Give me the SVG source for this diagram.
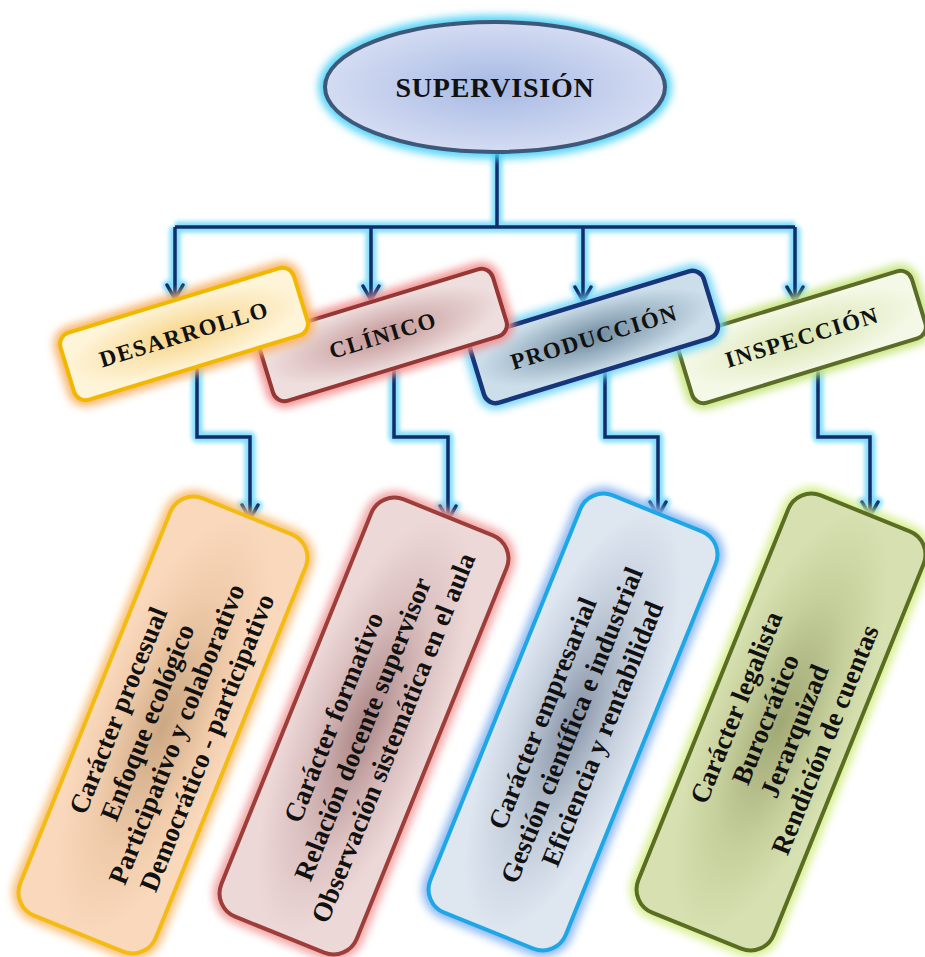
<svg xmlns="http://www.w3.org/2000/svg" width="925" height="957" viewBox="0 0 925 957">
<defs>
<style>
.t{font-family:"Liberation Serif","Times New Roman",serif;font-weight:bold;fill:#111;}
.ht{font-size:23px;letter-spacing:1.5px;text-anchor:middle;}
.bt{font-size:27px;text-anchor:middle;}
.glow{fill:none;stroke-width:13;filter:url(#blur);}
.cg{fill:none;stroke:#80DEF9;stroke-width:11;stroke-linejoin:round;}
.cl{fill:none;stroke:#112D6C;stroke-width:3.5;stroke-linejoin:miter;}
</style>
<filter id="blur" x="-30%" y="-30%" width="160%" height="160%"><feGaussianBlur stdDeviation="4"/></filter>
<filter id="cblur" x="-20%" y="-20%" width="140%" height="140%"><feGaussianBlur stdDeviation="2.2"/></filter>
<marker id="arr" viewBox="0 0 20 20" refX="17" refY="10" markerWidth="20" markerHeight="20" orient="auto" markerUnits="userSpaceOnUse">
<path d="M3,2 L17,10 L3,18" fill="none" stroke="#112D6C" stroke-width="3.5" stroke-linecap="round" stroke-linejoin="miter"/>
</marker>
<marker id="arrg" viewBox="-4 -4 28 28" refX="17" refY="10" markerWidth="28" markerHeight="28" orient="auto" markerUnits="userSpaceOnUse">
<path d="M3,2 L17,10 L3,18" fill="none" stroke="#80DEF9" stroke-width="9" stroke-linecap="round" stroke-linejoin="round"/>
</marker>
<radialGradient id="gEll"><stop offset="0" stop-color="#A6B9E4"/><stop offset="1" stop-color="#D4DCF2"/></radialGradient>
<radialGradient id="gHD"><stop offset="0" stop-color="#F7D386"/><stop offset="1" stop-color="#FEF4D8"/></radialGradient>
<radialGradient id="gHC"><stop offset="0" stop-color="#C29696"/><stop offset="1" stop-color="#EFDEDE"/></radialGradient>
<radialGradient id="gHP"><stop offset="0" stop-color="#6E8A9E"/><stop offset="1" stop-color="#CCDEEA"/></radialGradient>
<radialGradient id="gHI"><stop offset="0" stop-color="#D9E5B0"/><stop offset="1" stop-color="#F4F8E6"/></radialGradient>
<radialGradient id="gBD"><stop offset="0" stop-color="#CCA783"/><stop offset="0.6" stop-color="#F0CBAA"/><stop offset="1" stop-color="#F9D8BC"/></radialGradient>
<radialGradient id="gBC"><stop offset="0" stop-color="#AC8686"/><stop offset="0.6" stop-color="#DCC1C1"/><stop offset="1" stop-color="#EDD8D8"/></radialGradient>
<radialGradient id="gBP"><stop offset="0" stop-color="#8793A6"/><stop offset="0.6" stop-color="#C6D0DD"/><stop offset="1" stop-color="#DEE6F0"/></radialGradient>
<radialGradient id="gBI"><stop offset="0" stop-color="#A0A874"/><stop offset="0.6" stop-color="#C6D09C"/><stop offset="1" stop-color="#D7E0B0"/></radialGradient>
</defs>
<rect width="925" height="957" fill="#FFFFFF"/>

<g id="connectors">
<g filter="url(#cblur)">
<path class="cg" d="M497,150 V227"/>
<path class="cg" d="M175,227 H795"/>
<path class="cg" d="M175,227 V299" marker-end="url(#arrg)"/>
<path class="cg" d="M371,227 V300" marker-end="url(#arrg)"/>
<path class="cg" d="M583,227 V301" marker-end="url(#arrg)"/>
<path class="cg" d="M795,227 V301" marker-end="url(#arrg)"/>
<path class="cg" d="M197,350 V437 H250 V519" marker-end="url(#arrg)"/>
<path class="cg" d="M394,350 V437 H448 V520" marker-end="url(#arrg)"/>
<path class="cg" d="M605,355 V437 H658 V516" marker-end="url(#arrg)"/>
<path class="cg" d="M818,355 V437 H870 V516" marker-end="url(#arrg)"/>
</g>
<path class="cl" d="M497,150 V227"/>
<path class="cl" d="M175,227 H795"/>
<path class="cl" d="M175,227 V299" marker-end="url(#arr)"/>
<path class="cl" d="M371,227 V300" marker-end="url(#arr)"/>
<path class="cl" d="M583,227 V301" marker-end="url(#arr)"/>
<path class="cl" d="M795,227 V301" marker-end="url(#arr)"/>
<path class="cl" d="M197,350 V437 H250 V519" marker-end="url(#arr)"/>
<path class="cl" d="M394,350 V437 H448 V520" marker-end="url(#arr)"/>
<path class="cl" d="M605,355 V437 H658 V516" marker-end="url(#arr)"/>
<path class="cl" d="M818,355 V437 H870 V516" marker-end="url(#arr)"/>
</g>

<g id="supervision">
<ellipse cx="495" cy="87" rx="170" ry="65" class="glow" stroke="#4CD2F8" stroke-width="22"/>
<ellipse cx="495" cy="87" rx="170" ry="65" fill="url(#gEll)" stroke="#3E587A" stroke-width="4"/>
<text class="t" x="495" y="97" font-size="28" letter-spacing="0.8" text-anchor="middle">SUPERVISIÓN</text>
</g>

<g id="inspeccion" transform="translate(802,337) rotate(-17)">
<rect x="-122" y="-35" width="244" height="70" rx="12" class="glow" stroke="#C6E57C"/>
<rect x="-122" y="-35" width="244" height="70" rx="12" fill="url(#gHI)" stroke="#5C6B27" stroke-width="4"/>
<text class="t ht" x="0" y="8">INSPECCIÓN</text>
</g>
<g id="produccion" transform="translate(594,337) rotate(-17)">
<rect x="-122" y="-35" width="244" height="70" rx="12" class="glow" stroke="#72D6F6"/>
<rect x="-122" y="-35" width="244" height="70" rx="12" fill="url(#gHP)" stroke="#17357A" stroke-width="4.5"/>
<text class="t ht" x="0" y="8">PRODUCCIÓN</text>
</g>
<g id="clinico" transform="translate(383,335) rotate(-17)">
<rect x="-122" y="-35" width="244" height="70" rx="12" class="glow" stroke="#F39090"/>
<rect x="-122" y="-35" width="244" height="70" rx="12" fill="url(#gHC)" stroke="#953735" stroke-width="4"/>
<text class="t ht" x="0" y="8" letter-spacing="2.5">CLÍNICO</text>
</g>
<g id="desarrollo" transform="translate(184,334) rotate(-17)">
<rect x="-122" y="-35" width="244" height="70" rx="12" class="glow" stroke="#F8B46A"/>
<rect x="-122" y="-35" width="244" height="70" rx="12" fill="url(#gHD)" stroke="#F2B800" stroke-width="4"/>
<text class="t ht" x="0" y="8">DESARROLLO</text>
</g>

<g id="box-desarrollo" transform="translate(163,725) rotate(22)">
<rect x="-73" y="-225" width="146" height="450" rx="25" class="glow" stroke="#F8C07A"/>
<rect x="-73" y="-225" width="146" height="450" rx="25" fill="url(#gBD)" stroke="#F4BB12" stroke-width="4"/>
<text class="t bt" transform="rotate(-90)">
<tspan x="0" y="-38">Carácter procesual</tspan>
<tspan x="0" y="-6.5">Enfoque ecológico</tspan>
<tspan x="0" y="25">Participativo y colaborativo</tspan>
<tspan x="0" y="56.5">Democrático - participativo</tspan>
</text>
</g>
<g id="box-clinico" transform="translate(364,726) rotate(22)">
<rect x="-73" y="-225" width="146" height="450" rx="25" class="glow" stroke="#F2A0A0"/>
<rect x="-73" y="-225" width="146" height="450" rx="25" fill="url(#gBC)" stroke="#9E3E3B" stroke-width="4"/>
<text class="t bt" transform="rotate(-90)">
<tspan x="0" y="-22.5">Carácter formativo</tspan>
<tspan x="0" y="9">Relación docente supervisor</tspan>
<tspan x="0" y="40.5">Observación sistemática en el aula</tspan>
</text>
</g>
<g id="box-produccion" transform="translate(573,722) rotate(22)">
<rect x="-73" y="-225" width="146" height="450" rx="25" class="glow" stroke="#8CB8F2"/>
<rect x="-73" y="-225" width="146" height="450" rx="25" fill="url(#gBP)" stroke="#1EA7E6" stroke-width="4"/>
<text class="t bt" transform="rotate(-90)">
<tspan x="0" y="-22.5">Carácter empresarial</tspan>
<tspan x="0" y="9">Gestión científica  e industrial</tspan>
<tspan x="0" y="40.5">Eficiencia y rentabilidad</tspan>
</text>
</g>
<g id="box-inspeccion" transform="translate(781,722) rotate(22)">
<rect x="-73" y="-225" width="146" height="450" rx="25" class="glow" stroke="#D6EE8C"/>
<rect x="-73" y="-225" width="146" height="450" rx="25" fill="url(#gBI)" stroke="#5A6E22" stroke-width="4"/>
<text class="t bt" transform="rotate(-90)">
<tspan x="0" y="-38">Carácter legalista</tspan>
<tspan x="0" y="-6.5">Burocrático</tspan>
<tspan x="0" y="25">Jerarquizad</tspan>
<tspan x="0" y="56.5">Rendición de cuentas</tspan>
</text>
</g>
</svg>
